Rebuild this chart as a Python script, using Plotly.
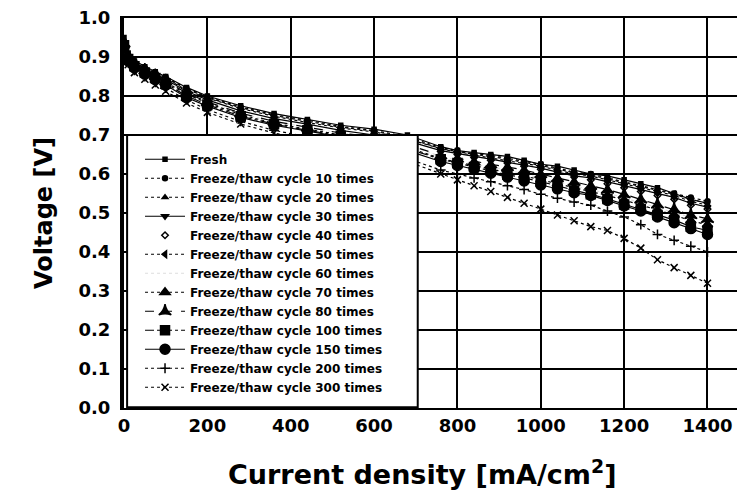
import plotly.graph_objects as go

current = [0, 10, 25, 50, 75, 100, 150, 200, 280, 360, 440, 520, 600, 680, 760, 800, 840,
           880, 920, 960, 1000, 1040, 1080, 1120, 1160, 1200, 1240, 1280, 1320, 1360, 1400]

fresh = [0.95, 0.91, 0.89, 0.875, 0.862, 0.85, 0.822, 0.80, 0.775, 0.755, 0.74, 0.725, 0.715, 0.70, 0.67, 0.66,
         0.655, 0.65, 0.645, 0.635, 0.625, 0.62, 0.61, 0.60, 0.595, 0.585, 0.575, 0.565, 0.55, 0.535, 0.525]
c10 = [0.94, 0.905, 0.888, 0.872, 0.86, 0.848, 0.82, 0.798, 0.772, 0.752, 0.738, 0.722, 0.712, 0.695, 0.668, 0.66,
       0.652, 0.648, 0.64, 0.632, 0.625, 0.615, 0.605, 0.60, 0.59, 0.58, 0.57, 0.56, 0.55, 0.54, 0.53]
c20 = [0.93, 0.90, 0.885, 0.87, 0.857, 0.845, 0.815, 0.795, 0.768, 0.748, 0.732, 0.718, 0.708, 0.69, 0.665, 0.655,
       0.648, 0.642, 0.635, 0.628, 0.62, 0.61, 0.60, 0.595, 0.585, 0.575, 0.565, 0.555, 0.545, 0.53, 0.52]
c30 = [0.935, 0.90, 0.884, 0.868, 0.855, 0.842, 0.812, 0.79, 0.762, 0.742, 0.728, 0.712, 0.70, 0.685, 0.66, 0.652,
       0.645, 0.638, 0.63, 0.622, 0.615, 0.605, 0.595, 0.59, 0.58, 0.57, 0.56, 0.55, 0.54, 0.525, 0.515]
c40 = [0.93, 0.898, 0.882, 0.866, 0.852, 0.84, 0.81, 0.788, 0.76, 0.74, 0.725, 0.71, 0.70, 0.682, 0.658, 0.65,
       0.642, 0.635, 0.628, 0.62, 0.612, 0.602, 0.592, 0.585, 0.575, 0.565, 0.555, 0.545, 0.535, 0.52, 0.51]
c50 = [0.94, 0.905, 0.887, 0.87, 0.858, 0.846, 0.818, 0.796, 0.77, 0.75, 0.735, 0.72, 0.71, 0.692, 0.665, 0.658,
       0.65, 0.645, 0.638, 0.63, 0.622, 0.612, 0.603, 0.597, 0.588, 0.578, 0.568, 0.558, 0.548, 0.535, 0.525]
c60 = [0.93, 0.90, 0.882, 0.865, 0.852, 0.84, 0.808, 0.785, 0.755, 0.735, 0.72, 0.705, 0.695, 0.675, 0.645, 0.635,
       0.625, 0.618, 0.61, 0.60, 0.59, 0.58, 0.57, 0.56, 0.55, 0.54, 0.525, 0.515, 0.50, 0.49, 0.48]
c70 = [0.93, 0.895, 0.878, 0.862, 0.848, 0.835, 0.805, 0.782, 0.752, 0.73, 0.715, 0.70, 0.69, 0.668, 0.64, 0.63,
       0.622, 0.612, 0.605, 0.595, 0.585, 0.575, 0.565, 0.555, 0.545, 0.533, 0.52, 0.508, 0.495, 0.48, 0.47]
c80 = [0.935, 0.90, 0.882, 0.866, 0.852, 0.838, 0.808, 0.785, 0.756, 0.735, 0.72, 0.705, 0.695, 0.675, 0.648, 0.64,
       0.632, 0.625, 0.618, 0.61, 0.60, 0.59, 0.58, 0.57, 0.56, 0.548, 0.535, 0.522, 0.51, 0.495, 0.485]
c100 = [0.93, 0.895, 0.876, 0.86, 0.846, 0.832, 0.80, 0.778, 0.748, 0.728, 0.712, 0.698, 0.688, 0.665, 0.638, 0.628,
        0.618, 0.608, 0.598, 0.59, 0.58, 0.57, 0.558, 0.548, 0.536, 0.522, 0.51, 0.495, 0.482, 0.465, 0.455]
c150 = [0.925, 0.89, 0.872, 0.856, 0.842, 0.828, 0.796, 0.774, 0.745, 0.725, 0.71, 0.695, 0.685, 0.66, 0.632, 0.622,
        0.612, 0.602, 0.592, 0.582, 0.572, 0.562, 0.552, 0.545, 0.532, 0.518, 0.505, 0.49, 0.475, 0.46, 0.445]
c200 = [0.92, 0.885, 0.866, 0.85, 0.835, 0.82, 0.79, 0.765, 0.735, 0.712, 0.695, 0.678, 0.665, 0.64, 0.61, 0.60,
        0.59, 0.58, 0.57, 0.56, 0.548, 0.538, 0.528, 0.52, 0.505, 0.49, 0.47, 0.445, 0.43, 0.415, 0.40]
c300 = [0.915, 0.88, 0.86, 0.843, 0.828, 0.812, 0.782, 0.758, 0.728, 0.705, 0.69, 0.672, 0.658, 0.632, 0.60, 0.585,
        0.57, 0.555, 0.54, 0.525, 0.51, 0.495, 0.48, 0.465, 0.455, 0.435, 0.41, 0.38, 0.36, 0.34, 0.32]

names = ["Fresh"] + ["Freeze/thaw cycle %d times" % n for n in [10, 20, 30, 40, 50, 60, 70, 80, 100, 150, 200, 300]]
series = [fresh, c10, c20, c30, c40, c50, c60, c70, c80, c100, c150, c200, c300]

styles = [
    dict(mode="lines+markers", dash="solid", symbol="square", size=4),
    dict(mode="lines+markers", dash="dot", symbol="circle", size=5),
    dict(mode="lines+markers", dash="dot", symbol="triangle-up", size=5),
    dict(mode="lines+markers", dash="solid", symbol="triangle-down", size=6),
    dict(mode="markers", dash="solid", symbol="diamond-open", size=5),
    dict(mode="lines+markers", dash="dot", symbol="triangle-left", size=6),
    dict(mode="lines", dash="dot", symbol="circle", size=1),
    dict(mode="lines+markers", dash="dot", symbol="triangle-up", size=9),
    dict(mode="lines+markers", dash="dash", symbol="star-triangle-up", size=9),
    dict(mode="lines+markers", dash="dashdot", symbol="square", size=9),
    dict(mode="lines+markers", dash="solid", symbol="circle", size=10),
    dict(mode="lines+markers", dash="dot", symbol="cross-thin-open", size=7),
    dict(mode="lines+markers", dash="dot", symbol="x-thin-open", size=7),
]

fig = go.Figure()
for name, ys, st in zip(names, series, styles):
    col = "#dddddd" if name.endswith("60 times") else "black"
    fig.add_trace(go.Scatter(
        x=current, y=ys, name=name, mode=st["mode"],
        line=dict(color=col, width=1.2, dash=st["dash"]),
        marker=dict(symbol=st["symbol"], size=st["size"], color="black",
                    line=dict(color="black", width=1.5)),
    ))

# legend box (covers the data beneath it, as in the original)
fig.add_shape(type="rect", xref="paper", yref="paper", x0=0.005, x1=0.473, y0=0.002, y1=0.70,
              fillcolor="white", line=dict(color="black", width=2), layer="above")

font_family = "DejaVu Sans, Liberation Sans, Arial, sans-serif"

fig.add_annotation(text="<b>Current density [mA/cm<sup>2</sup>]</b>", xref="paper", yref="paper",
                   x=0.48, y=-0.165, xanchor="center", yanchor="middle", showarrow=False,
                   font=dict(size=27, family=font_family, color="black"))

fig.update_layout(
    width=745, height=492,
    margin=dict(l=116, r=8, t=10, b=92),
    paper_bgcolor="white", plot_bgcolor="white",
    font=dict(family=font_family, color="black"),
    showlegend=True,
    legend=dict(x=0.0258, y=0.675, xanchor="left", yanchor="top", bgcolor="rgba(0,0,0,0)",
                borderwidth=0, font=dict(size=12, family=font_family, color="black", weight="bold"),
                tracegroupgap=0, itemwidth=40),
    xaxis=dict(range=[0, 1490], tickvals=[0, 200, 400, 600, 800, 1000, 1200, 1400],
               showgrid=True, gridcolor="black", gridwidth=2, zeroline=False,
               showline=True, linecolor="black", linewidth=2, mirror=True,
               ticks="", ticklabelstandoff=0, automargin=False, ticklabeloverflow="allow",
               tickfont=dict(size=18, family=font_family, weight="bold")),
    yaxis=dict(range=[0, 1.0], tickvals=[0, 0.1, 0.2, 0.3, 0.4, 0.5, 0.6, 0.7, 0.8, 0.9, 1.0],
               tickformat=".1f",
               showgrid=True, gridcolor="black", gridwidth=2, zeroline=False,
               showline=True, linecolor="black", linewidth=4, mirror=True,
               ticks="", ticklabelstandoff=6, automargin=False, ticklabeloverflow="allow",
               tickfont=dict(size=18, family=font_family, weight="bold"),
               title=dict(text="<b>Voltage [V]</b>", font=dict(size=24), standoff=20)),
)

fig.write_html("out.html")
